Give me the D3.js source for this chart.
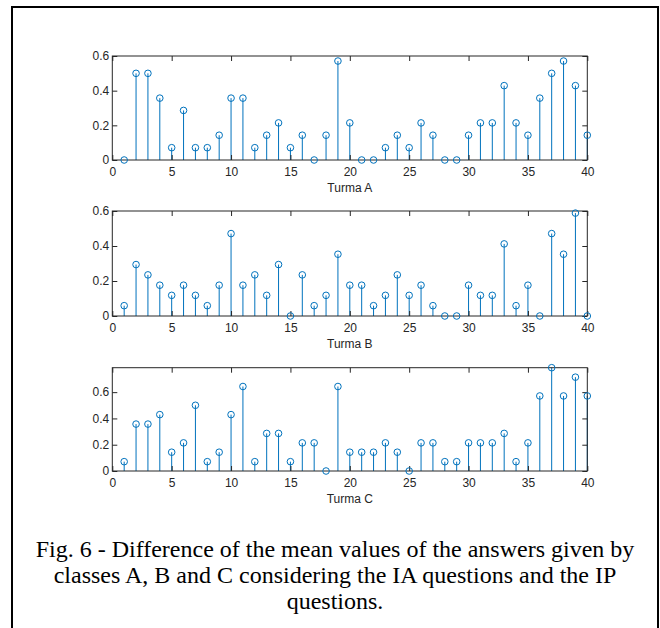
<!DOCTYPE html>
<html>
<head>
<meta charset="utf-8">
<script src="https://cdn.jsdelivr.net/npm/d3@7"></script>
<style>
  body { margin: 0; background: #fff; }
  svg { display: block; }
  .tick text { font-family: "Liberation Sans", Arial, sans-serif; font-size: 12px; fill: #262626; }
  .xlabel { font-family: "Liberation Sans", Arial, sans-serif; font-size: 12px; fill: #262626; }
  .caption { font-family: "Liberation Serif", "Times New Roman", serif; font-size: 24px; fill: #000; }
</style>
</head>
<body>
<svg id="chart" width="660" height="628"></svg>
<script>
// question index 1..40
const questions = d3.range(1, 41);

// difference of mean values per question
const turmaA = [
  0, 0.5, 0.5, 0.357, 0.071, 0.286, 0.071, 0.071, 0.143, 0.357,
  0.357, 0.071, 0.143, 0.214, 0.071, 0.143, 0, 0.143, 0.571, 0.214,
  0, 0, 0.071, 0.143, 0.071, 0.214, 0.143, 0, 0, 0.143,
  0.214, 0.214, 0.429, 0.214, 0.143, 0.357, 0.5, 0.571, 0.429, 0.143
];
const turmaB = [
  0.059, 0.294, 0.235, 0.176, 0.118, 0.176, 0.118, 0.059, 0.176, 0.471,
  0.176, 0.235, 0.118, 0.294, 0, 0.235, 0.059, 0.118, 0.353, 0.176,
  0.176, 0.059, 0.118, 0.235, 0.118, 0.176, 0.059, 0, 0, 0.176,
  0.118, 0.118, 0.412, 0.059, 0.176, 0, 0.471, 0.353, 0.588, 0
];
const turmaC = [
  0.071, 0.357, 0.357, 0.429, 0.143, 0.214, 0.5, 0.071, 0.143, 0.429,
  0.643, 0.071, 0.286, 0.286, 0.071, 0.214, 0.214, 0, 0.643, 0.143,
  0.143, 0.143, 0.214, 0.143, 0, 0.214, 0.214, 0.071, 0.071, 0.214,
  0.214, 0.214, 0.286, 0.071, 0.214, 0.571, 0.786, 0.571, 0.714, 0.571
];

const xTicks = [0, 5, 10, 15, 20, 25, 30, 35, 40];
const yTicks = [0, 0.2, 0.4, 0.6];
const panelLabels = ["Turma A", "Turma B", "Turma C"];
const captionLines = [
  "Fig. 6 - Difference of the mean values of the answers given by",
  "classes A, B and C considering the IA questions and the IP",
  "questions."
];

const svg = d3.select("svg#chart");
const blue = "#0072BD";
const axisColor = "#262626";
const left = 112.3, right = 587.3;
const x = d3.scaleLinear().domain([0, 40]).range([left, right]);

// layout of the three panels: top and bottom pixel of each plot box
const panels = [
  { values: turmaA, top: 56, bottom: 160, ymax: 0.6 },
  { values: turmaB, top: 211, bottom: 316, ymax: 0.6 },
  { values: turmaC, top: 367.7, bottom: 471, ymax: d3.max(turmaC) }
];

panels.forEach((p, i) => {
  const y = d3.scaleLinear().domain([0, p.ymax]).range([p.bottom, p.top]);
  const g = svg.append("g");

  // stems
  g.append("g")
    .selectAll("line")
    .data(p.values)
    .join("line")
    .attr("x1", (_, j) => x(questions[j]))
    .attr("x2", (_, j) => x(questions[j]))
    .attr("y1", y(0))
    .attr("y2", (d) => y(d))
    .attr("stroke", blue)
    .attr("stroke-width", 1);

  // axes: ticks pointing inward on all four sides
  const tick = 5;
  const styleAxis = (sel) => {
    sel.selectAll(".tick line").attr("stroke", axisColor);
  };
  g.append("g")
    .attr("transform", `translate(0,${p.bottom})`)
    .call(d3.axisBottom(x).tickValues(xTicks).tickSizeInner(-tick).tickSizeOuter(0).tickPadding(7.5))
    .call(styleAxis);
  g.append("g")
    .attr("transform", `translate(0,${p.top})`)
    .call(d3.axisTop(x).tickValues(xTicks).tickSizeInner(-tick).tickSizeOuter(0).tickFormat(""))
    .call(styleAxis);
  g.append("g")
    .attr("transform", `translate(${left},0)`)
    .call(d3.axisLeft(y).tickValues(yTicks).tickSizeInner(-tick).tickSizeOuter(0).tickPadding(3)
      .tickFormat((d) => (d === 0 ? "0" : d3.format(".1f")(d))))
    .call(styleAxis);
  g.append("g")
    .attr("transform", `translate(${right},0)`)
    .call(d3.axisRight(y).tickValues(yTicks).tickSizeInner(-tick).tickSizeOuter(0).tickFormat(""))
    .call(styleAxis);
  g.selectAll(".domain").remove();
  g.append("rect")
    .attr("x", left).attr("y", p.top)
    .attr("width", right - left).attr("height", p.bottom - p.top)
    .attr("fill", "none").attr("stroke", axisColor).attr("stroke-width", 1);

  // markers
  g.append("g")
    .selectAll("circle")
    .data(p.values)
    .join("circle")
    .attr("cx", (_, j) => x(questions[j]))
    .attr("cy", (d) => y(d))
    .attr("r", 3.3)
    .attr("fill", "none")
    .attr("stroke", blue)
    .attr("stroke-width", 1);

  g.append("text")
    .attr("class", "xlabel")
    .attr("x", (left + right) / 2)
    .attr("y", p.bottom + 32)
    .attr("text-anchor", "middle")
    .text(panelLabels[i]);
});

// caption
svg.append("g")
  .selectAll("text")
  .data(captionLines)
  .join("text")
  .attr("class", "caption")
  .attr("x", 335)
  .attr("y", (_, i) => 557 + i * 26)
  .attr("text-anchor", "middle")
  .text((d) => d);

// figure frame
svg.append("path")
  .attr("d", "M12,640V7H658V640")
  .attr("fill", "none")
  .attr("stroke", "#000")
  .attr("stroke-width", 2);
</script>
</body>
</html>
